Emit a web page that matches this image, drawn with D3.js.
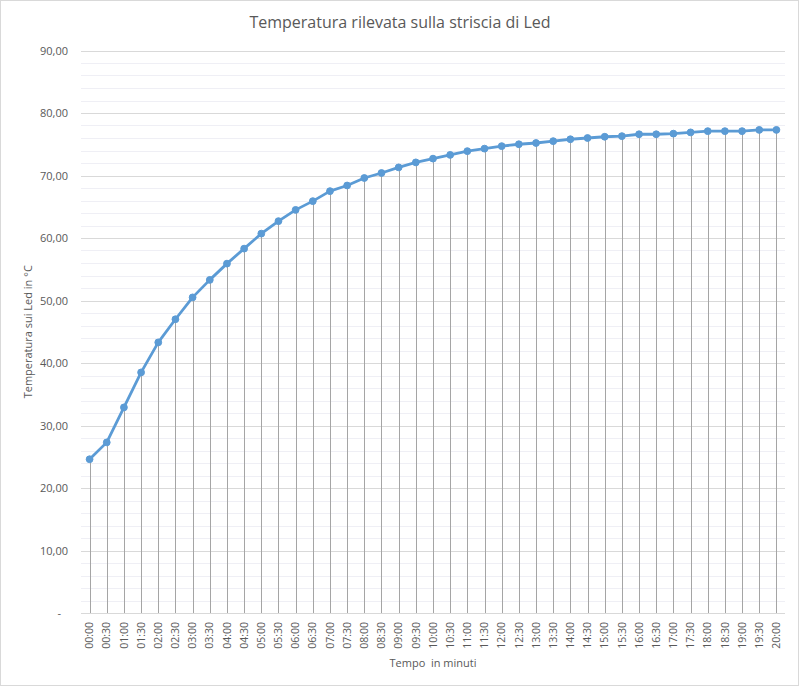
<!DOCTYPE html>
<html><head><meta charset="utf-8">
<script src="https://cdn.jsdelivr.net/npm/d3@7"></script>
<style>body{margin:0;background:#fff}svg{display:block}text{font-family:"Open Sans","Noto Sans",sans-serif}</style>
</head><body>
<script>
const times = ["00:00","00:30","01:00","01:30","02:00","02:30","03:00","03:30","04:00","04:30",
"05:00","05:30","06:00","06:30","07:00","07:30","08:00","08:30","09:00","09:30",
"10:00","10:30","11:00","11:30","12:00","12:30","13:00","13:30","14:00","14:30",
"15:00","15:30","16:00","16:30","17:00","17:30","18:00","18:30","19:00","19:30","20:00"];
const temps = [24.6,27.3,32.9,38.5,43.3,47.0,50.5,53.3,55.9,58.3,
60.7,62.7,64.5,65.9,67.5,68.4,69.6,70.4,71.3,72.1,
72.7,73.3,73.9,74.3,74.7,75.0,75.2,75.5,75.8,76.0,
76.2,76.3,76.6,76.6,76.7,76.9,77.1,77.1,77.1,77.3,77.3];
const yTicks = [0,10,20,30,40,50,60,70,80,90];
const minorTicks = d3.range(0, 91, 2).filter(v => v % 10 !== 0);
const title = "Temperatura rilevata sulla striscia di Led";
const yTitle = "Temperatura sui Led in °C";
const xTitle = "Tempo  in minuti";

const W = 799, H = 686;
const svg = d3.select("body").append("svg").attr("width", W).attr("height", H);
svg.append("rect").attr("x",0.5).attr("y",0.5).attr("width",W-1).attr("height",H-1)
  .attr("fill","#fff").attr("stroke","#d9d9d9");

const L = 81, R = 785, T = 50.5, B = 613;
const x = d3.scaleBand().domain(times).range([L, R]).padding(0);
const y = d3.scaleLinear().domain([0, 90]).range([B, T]);
const cx = d => x(d) + x.bandwidth()/2;

// minor gridlines
svg.append("g").selectAll("line").data(minorTicks).join("line")
  .attr("x1", L).attr("x2", R).attr("y1", d => Math.round(y(d))+0.5).attr("y2", d => Math.round(y(d))+0.5)
  .attr("stroke", "#efeff5").attr("stroke-width", 1);
// major gridlines
svg.append("g").selectAll("line").data(yTicks).join("line")
  .attr("x1", L).attr("x2", R).attr("y1", d => Math.round(y(d))+0.5).attr("y2", d => Math.round(y(d))+0.5)
  .attr("stroke", "#d9d9d9").attr("stroke-width", 1);

// y axis labels
const yAxis = d3.axisLeft(y).tickValues(yTicks).tickSize(0).tickPadding(13)
  .tickFormat(d => d === 0 ? "-" : d3.format(".2f")(d).replace(".", ","));
const gy = svg.append("g").attr("transform", `translate(${L},0)`).call(yAxis);
gy.select(".domain").remove();
gy.selectAll("text").attr("fill", "#595959").attr("font-size", 11).attr("font-family", '"Open Sans",sans-serif');
gy.selectAll(".tick").filter(d => d === 0).select("text").attr("dx", -7);

// x axis labels
const xAxis = d3.axisBottom(x).tickSize(0).tickPadding(0);
const gx = svg.append("g").attr("transform", `translate(0,${B})`).call(xAxis);
gx.select(".domain").remove();
gx.selectAll("text").attr("fill", "#595959").attr("font-size", 10.5)
  .attr("font-family", '"DejaVu Sans Mono","Liberation Mono",monospace')
  .attr("text-anchor", "end").attr("transform", "rotate(-90)")
  .attr("x", -9).attr("y", 0).attr("dy", "0.35em");

// drop lines
svg.append("g").selectAll("line").data(times).join("line")
  .attr("x1", d => Math.round(cx(d))+0.5).attr("x2", d => Math.round(cx(d))+0.5)
  .attr("y1", (d,i) => y(temps[i])).attr("y2", B)
  .attr("stroke", "#a5a5a5").attr("stroke-width", 1);

// axis line
svg.append("line").attr("x1", L).attr("x2", R).attr("y1", Math.round(B)+0.5).attr("y2", Math.round(B)+0.5)
  .attr("stroke", "#d9d9d9");

// series line
const line = d3.line().x((d,i) => cx(times[i])).y(d => y(d));
svg.append("path").datum(temps).attr("d", line).attr("fill", "none")
  .attr("stroke", "#5b9bd5").attr("stroke-width", 2.8).attr("stroke-linejoin", "round");
svg.append("g").selectAll("circle").data(temps).join("circle")
  .attr("cx", (d,i) => cx(times[i])).attr("cy", d => y(d)).attr("r", 3.4)
  .attr("fill", "#5b9bd5").attr("stroke", "#5b9bd5").attr("stroke-width", 1);

// titles
svg.append("text").attr("x", 400).attr("y", 28).attr("text-anchor", "middle")
  .attr("font-size", 16).attr("fill", "#595959").text(title);
svg.append("text").attr("transform", `translate(32,${(T+B)/2}) rotate(-90)`).attr("text-anchor", "middle")
  .attr("font-size", 11).attr("fill", "#595959").text(yTitle);
svg.append("text").attr("x", (L+R)/2).attr("y", 667).attr("text-anchor", "middle")
  .attr("font-size", 11).attr("fill", "#595959").attr("xml:space","preserve").style("white-space","pre").text(xTitle);
</script>
</body></html>
